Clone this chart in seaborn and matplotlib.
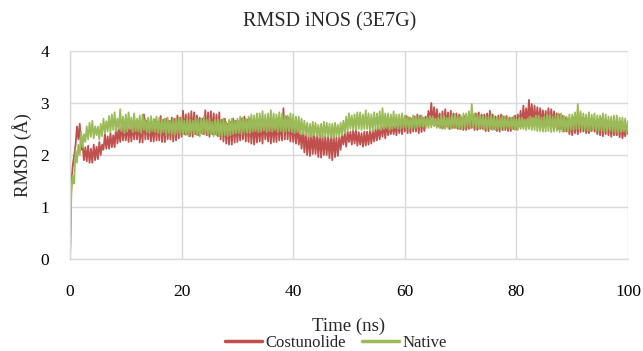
import numpy as np
import pandas as pd
import matplotlib
matplotlib.use("Agg")
import matplotlib.pyplot as plt
import seaborn as sns

time_ns = np.arange(0, 100.25, 0.25)

costunolide = [
    0.0, 1.5, 1.8, 2.0,  2.2, 2.55, 2.3, 2.6,  2.1, 2.2, 1.9, 2.15,  1.88, 2.18, 1.85, 2.12,  1.85, 2.2, 1.9, 2.16,
    1.92, 2.25, 2.0, 2.2,  2.1, 2.4, 2.12, 2.36,  2.12, 2.42, 2.15, 2.38,  2.15, 2.55, 2.22, 2.5,  2.25, 2.6, 2.28, 2.55,
    2.28, 2.62, 2.25, 2.58,  2.26, 2.6, 2.3, 2.64,  2.3, 2.65, 2.24, 2.6,  2.24, 2.78, 2.3, 2.66,  2.3, 2.62, 2.26, 2.6,
    2.26, 2.68, 2.28, 2.64,  2.28, 2.75, 2.25, 2.68,  2.25, 2.7, 2.3, 2.66,  2.3, 2.72, 2.26, 2.7,  2.28, 2.76, 2.32, 2.72,
    2.35, 2.85, 2.4, 2.78,  2.4, 2.8, 2.36, 2.84,  2.35, 2.82, 2.4, 2.76,  2.38, 2.72, 2.42, 2.7,  2.4, 2.86, 2.38, 2.82,
    2.35, 2.84, 2.4, 2.8,  2.4, 2.78, 2.36, 2.82,  2.3, 2.68, 2.26, 2.7,  2.22, 2.6, 2.2, 2.64,  2.2, 2.7, 2.24, 2.66,
    2.25, 2.65, 2.28, 2.7,  2.3, 2.74, 2.26, 2.68,  2.25, 2.7, 2.22, 2.66,  2.2, 2.62, 2.24, 2.6,  2.26, 2.65, 2.22, 2.68,
    2.3, 2.6, 2.26, 2.64,  2.22, 2.68, 2.25, 2.62,  2.25, 2.7, 2.28, 2.66,  2.28, 2.9, 2.3, 2.74,  2.3, 2.72, 2.26, 2.68,
    2.25, 2.62, 2.22, 2.58,  2.2, 2.45, 2.12, 2.5,  2.05, 2.42, 2.0, 2.38,  1.98, 2.45, 2.02, 2.4,  2.02, 2.4, 1.96, 2.42,
    1.95, 2.38, 2.0, 2.36,  2.0, 2.35, 1.94, 2.4,  1.9, 2.4, 1.96, 2.34,  1.98, 2.35, 2.1, 2.4,  2.2, 2.42, 2.16, 2.45,
    2.25, 2.45, 2.2, 2.48,  2.22, 2.48, 2.18, 2.44,  2.2, 2.42, 2.16, 2.45,  2.18, 2.45, 2.2, 2.46,  2.22, 2.48, 2.26, 2.5,
    2.28, 2.55, 2.3, 2.58,  2.35, 2.6, 2.32, 2.62,  2.38, 2.58, 2.4, 2.6,  2.4, 2.62, 2.38, 2.64,  2.42, 2.65, 2.4, 2.7,
    2.45, 2.75, 2.42, 2.72,  2.42, 2.7, 2.45, 2.74,  2.45, 2.78, 2.42, 2.76,  2.44, 2.72, 2.46, 2.74,  2.58, 2.85, 2.6, 3.0,
    2.6, 2.92, 2.58, 2.88,  2.55, 2.8, 2.52, 2.84,  2.52, 2.88, 2.55, 2.82,  2.5, 2.85, 2.52, 2.8,  2.52, 2.8, 2.5, 2.78,
    2.5, 2.72, 2.48, 2.75,  2.48, 2.7, 2.5, 2.74,  2.52, 2.75, 2.48, 2.8,  2.48, 2.82, 2.5, 2.78,  2.5, 2.78, 2.46, 2.8,
    2.46, 2.85, 2.5, 2.78,  2.5, 2.74, 2.46, 2.76,  2.45, 2.78, 2.48, 2.74,  2.48, 2.75, 2.46, 2.72,  2.46, 2.72, 2.5, 2.76,
    2.5, 2.78, 2.55, 2.85,  2.55, 2.95, 2.6, 2.9,  2.6, 3.06, 2.62, 2.98,  2.62, 2.95, 2.6, 2.92,  2.6, 2.9, 2.58, 2.86,
    2.55, 2.85, 2.58, 2.9,  2.58, 2.88, 2.55, 2.84,  2.55, 2.8, 2.5, 2.78,  2.5, 2.75, 2.45, 2.72,  2.45, 2.7, 2.4, 2.68,
    2.38, 2.72, 2.42, 2.7,  2.4, 2.68, 2.44, 2.72,  2.45, 2.7, 2.42, 2.66,  2.42, 2.68, 2.46, 2.7,  2.45, 2.65, 2.4, 2.68,
    2.38, 2.7, 2.36, 2.66,  2.4, 2.66, 2.38, 2.64,  2.35, 2.62, 2.38, 2.6,  2.38, 2.6, 2.34, 2.64,  2.32, 2.5, 2.36, 2.55,
    2.4,
]

native = [
    0.0, 1.3, 1.6, 1.45,  2.1, 1.85, 2.2, 2.0,  2.45, 2.15, 2.4, 2.25,  2.55, 2.3, 2.62, 2.35,  2.66, 2.32, 2.55, 2.38,
    2.55, 2.3, 2.6, 2.36,  2.7, 2.42, 2.65, 2.45,  2.75, 2.44, 2.78, 2.48,  2.82, 2.45, 2.7, 2.5,  2.88, 2.46, 2.74, 2.42,
    2.78, 2.45, 2.82, 2.5,  2.72, 2.44, 2.8, 2.46,  2.7, 2.45, 2.76, 2.42,  2.78, 2.48, 2.7, 2.44,  2.72, 2.42, 2.75, 2.46,
    2.7, 2.44, 2.74, 2.42,  2.72, 2.4, 2.68, 2.44,  2.7, 2.38, 2.72, 2.42,  2.66, 2.4, 2.7, 2.38,  2.68, 2.42, 2.72, 2.4,
    2.72, 2.4, 2.66, 2.38,  2.7, 2.36, 2.68, 2.42,  2.66, 2.4, 2.72, 2.38,  2.68, 2.36, 2.7, 2.4,  2.74, 2.42, 2.68, 2.38,
    2.7, 2.4, 2.64, 2.36,  2.68, 2.38, 2.7, 2.36,  2.66, 2.35, 2.7, 2.38,  2.64, 2.36, 2.68, 2.38,  2.7, 2.4, 2.66, 2.42,
    2.7, 2.42, 2.74, 2.4,  2.72, 2.44, 2.7, 2.42,  2.74, 2.42, 2.78, 2.45,  2.76, 2.46, 2.8, 2.44,  2.8, 2.45, 2.84, 2.47,
    2.78, 2.44, 2.8, 2.46,  2.86, 2.45, 2.8, 2.48,  2.78, 2.44, 2.82, 2.46,  2.8, 2.42, 2.76, 2.45,  2.76, 2.45, 2.8, 2.44,
    2.78, 2.42, 2.74, 2.44,  2.74, 2.4, 2.7, 2.4,  2.66, 2.38, 2.62, 2.36,  2.6, 2.35, 2.64, 2.38,  2.62, 2.36, 2.58, 2.34,
    2.6, 2.34, 2.64, 2.36,  2.62, 2.35, 2.6, 2.33,  2.6, 2.33, 2.62, 2.36,  2.58, 2.35, 2.62, 2.38,  2.66, 2.42, 2.74, 2.46,
    2.8, 2.5, 2.76, 2.48,  2.78, 2.48, 2.82, 2.5,  2.82, 2.48, 2.78, 2.5,  2.86, 2.5, 2.8, 2.47,  2.78, 2.46, 2.82, 2.5,
    2.8, 2.5, 2.84, 2.48,  2.9, 2.5, 2.8, 2.52,  2.8, 2.48, 2.78, 2.5,  2.84, 2.52, 2.78, 2.5,  2.78, 2.5, 2.8, 2.52,
    2.76, 2.52, 2.74, 2.5,  2.72, 2.5, 2.76, 2.52,  2.74, 2.52, 2.72, 2.54,  2.76, 2.54, 2.72, 2.52,  2.72, 2.52, 2.75, 2.53,
    2.74, 2.55, 2.7, 2.52,  2.72, 2.52, 2.76, 2.5,  2.76, 2.5, 2.72, 2.52,  2.74, 2.5, 2.78, 2.52,  2.78, 2.52, 2.74, 2.5,
    2.76, 2.5, 2.8, 2.52,  2.8, 2.55, 2.84, 2.52,  2.98, 2.55, 2.8, 2.52,  2.78, 2.5, 2.76, 2.52,  2.76, 2.48, 2.74, 2.5,
    2.74, 2.5, 2.78, 2.48,  2.75, 2.48, 2.72, 2.5,  2.72, 2.5, 2.76, 2.48,  2.74, 2.52, 2.7, 2.5,  2.72, 2.5, 2.74, 2.48,
    2.7, 2.48, 2.72, 2.5,  2.72, 2.5, 2.68, 2.48,  2.7, 2.5, 2.74, 2.48,  2.72, 2.48, 2.76, 2.46,  2.76, 2.46, 2.72, 2.45,
    2.74, 2.45, 2.78, 2.46,  2.78, 2.44, 2.74, 2.45,  2.76, 2.46, 2.8, 2.44,  2.8, 2.45, 2.76, 2.46,  2.74, 2.46, 2.78, 2.48,
    2.78, 2.48, 2.82, 2.5,  2.98, 2.5, 2.84, 2.48,  2.8, 2.48, 2.78, 2.46,  2.82, 2.46, 2.78, 2.48,  2.8, 2.45, 2.76, 2.46,
    2.76, 2.46, 2.8, 2.44,  2.78, 2.45, 2.74, 2.46,  2.74, 2.44, 2.76, 2.42,  2.76, 2.42, 2.72, 2.44,  2.72, 2.45, 2.7, 2.42,
    2.65,
]

series_names = ["Costunolide", "Native"]
colors = ["#C0504D", "#9BBB59"]
x_ticks = [0, 20, 40, 60, 80, 100]
y_ticks = [0, 1, 2, 3, 4]

df = pd.concat([
    pd.DataFrame({"Time": time_ns, "RMSD": costunolide, "Series": series_names[0]}),
    pd.DataFrame({"Time": time_ns, "RMSD": native, "Series": series_names[1]}),
])

sns.set_theme(style="white")
plt.rcParams["font.family"] = ["Liberation Serif", "DejaVu Serif"]

fig = plt.figure(figsize=(6.43, 3.51), dpi=100)
ax = fig.add_axes([70 / 643, 1 - 259 / 351, 558 / 643, 208 / 351])

sns.lineplot(data=df, x="Time", y="RMSD", hue="Series", hue_order=series_names,
             palette=colors, linewidth=1.3, ax=ax, estimator=None, sort=False)

ax.set_xlim(0, 100)
ax.set_ylim(0, 4)
ax.set_xticks(x_ticks)
ax.set_yticks(y_ticks)
ax.grid(True, color="#D9D9D9", linewidth=1.0)
ax.set_axisbelow(True)
for side in ["top", "right"]:
    ax.spines[side].set_visible(False)
for side in ["left", "bottom"]:
    ax.spines[side].set_color("#D9D9D9")
    ax.spines[side].set_linewidth(1.0)
ax.tick_params(axis="both", length=0, labelsize=12.5, colors="black")
ax.tick_params(axis="x", pad=18)
ax.tick_params(axis="y", pad=15)

ax.set_xlabel("Time (ns)", fontsize=13.5, labelpad=13)
ax.set_ylabel("RMSD (Å)", fontsize=13.5, labelpad=6)

fig.text(330 / 643, 1 - 22 / 351, "RMSD iNOS (3E7G)", ha="center", va="center", fontsize=14.5)

handles, labels = ax.get_legend_handles_labels()
ax.legend(handles, labels, loc="center", bbox_to_anchor=(336 / 643, 1 - 343 / 351),
          bbox_transform=fig.transFigure, ncol=2, frameon=False, fontsize=12,
          handlelength=2.2, handletextpad=0.2, columnspacing=1.0, borderpad=0)
for line in ax.get_legend().get_lines():
    line.set_linewidth(2.5)

fig.savefig("out.png", dpi=100)
